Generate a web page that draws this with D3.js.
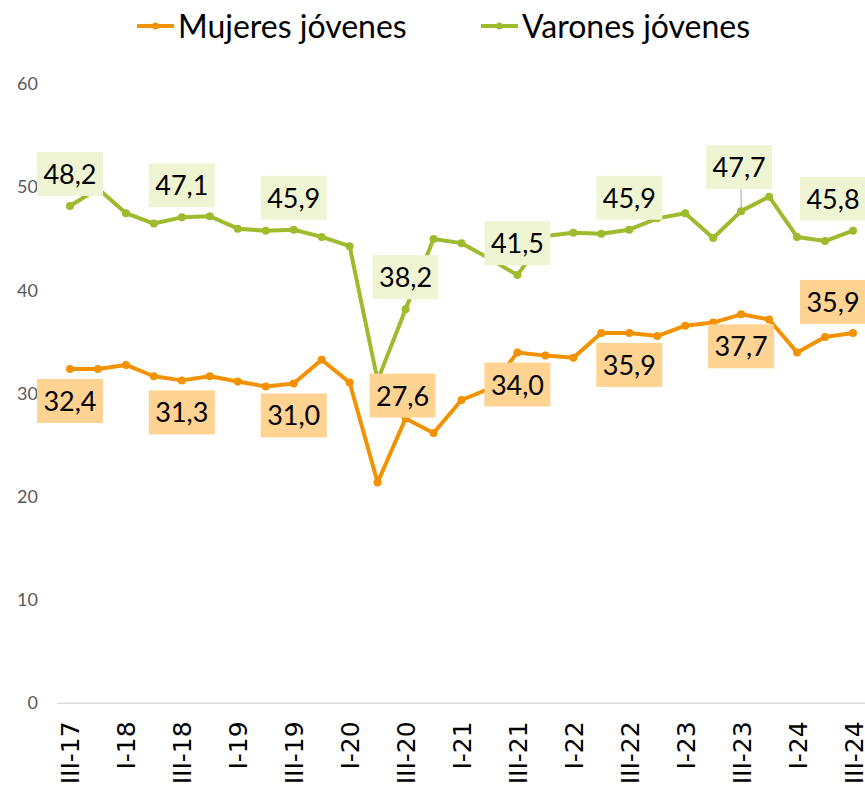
<!DOCTYPE html>
<html>
<head>
<meta charset="utf-8">
<script src="https://cdn.jsdelivr.net/npm/d3@7"></script>
<style>
  body { margin: 0; background: #fff; }
  svg { display: block; font-family: Lato, "Open Sans", sans-serif; }
</style>
</head>
<body>
<script>
// quarters III-2017 .. III-2024
const quarters = ['III-17','IV-17','I-18','II-18','III-18','IV-18','I-19','II-19','III-19','IV-19',
  'I-20','II-20','III-20','IV-20','I-21','II-21','III-21','IV-21','I-22','II-22','III-22','IV-22',
  'I-23','II-23','III-23','IV-23','I-24','II-24','III-24'];

const mujeres = [32.4, 32.4, 32.8, 31.7, 31.3, 31.7, 31.2, 30.7, 31.0, 33.3, 31.1, 21.4, 27.6, 26.2,
  29.4, 30.5, 34.0, 33.7, 33.5, 35.9, 35.9, 35.6, 36.6, 36.9, 37.7, 37.2, 34.0, 35.5, 35.9];

const varones = [48.2, 49.9, 47.5, 46.5, 47.1, 47.2, 46.0, 45.8, 45.9, 45.2, 44.3, 31.3, 38.2, 45.0,
  44.6, 43.1, 41.5, 45.3, 45.6, 45.5, 45.9, 47.0, 47.5, 45.1, 47.7, 49.1, 45.2, 44.8, 45.8];

const yTicks = [0, 10, 20, 30, 40, 50, 60];

const series = [
  { name: 'Mujeres jóvenes', values: mujeres, color: '#f39200', labelBg: '#ffd392', side: 1 },
  { name: 'Varones jóvenes', values: varones, color: '#9dbb2c', labelBg: '#eff5d3', side: -1 }
];

// label placement tweaks (dx, dy from the point) where the default is not used
const nudge = {
  'Mujeres jóvenes|III-20': [-3, -23],
  'Mujeres jóvenes|III-24': [-20, -31],
  'Varones jóvenes|III-23': [-2, -44],
  'Varones jóvenes|III-24': [-20, -32]
};

const W = 865, H = 786;
const svg = d3.select('body').append('svg').attr('width', W).attr('height', H);

const x = d3.scalePoint().domain(quarters).range([56, 867]).padding(0.5);
const y = d3.scaleLinear().domain([0, 60]).range([703.4, 84.2]);

/* y axis: labels only */
svg.append('g').selectAll('text')
  .data(yTicks)
  .enter().append('text')
  .attr('x', 38)
  .attr('y', d => y(d) + 6)
  .attr('text-anchor', 'end')
  .attr('font-size', 18)
  .attr('fill', '#595959')
  .text(d => d);

/* baseline */
svg.append('line')
  .attr('x1', 57).attr('x2', W)
  .attr('y1', y(0)).attr('y2', y(0))
  .attr('stroke', '#d9d9d9').attr('stroke-width', 1.3);

/* x axis: every other quarter, rotated */
const xAxis = d3.axisBottom(x)
  .tickValues(quarters.filter((q, i) => i % 2 === 0))
  .tickSize(0);
const gx = svg.append('g')
  .attr('transform', `translate(0,${y(0)})`)
  .call(xAxis);
gx.select('.domain').remove();
gx.selectAll('text')
  .attr('font-family', '"DejaVu Sans", sans-serif')
  .attr('font-size', 25)
  .attr('fill', '#000')
  .attr('transform', 'rotate(-90)')
  .attr('text-anchor', 'end')
  .attr('x', -18)
  .attr('y', 0)
  .attr('dy', '0.36em');

/* lines + markers */
const line = d3.line()
  .x((d, i) => x(quarters[i]))
  .y(d => y(d));

series.forEach(s => {
  svg.append('path')
    .datum(s.values)
    .attr('d', line)
    .attr('fill', 'none')
    .attr('stroke', s.color)
    .attr('stroke-width', 4)
    .attr('stroke-linejoin', 'round');
  svg.append('g').selectAll('circle')
    .data(s.values)
    .enter().append('circle')
    .attr('cx', (d, i) => x(quarters[i]))
    .attr('cy', d => y(d))
    .attr('r', 4)
    .attr('fill', s.color);
});

/* data labels on III quarters */
const fmt = v => d3.format('.1f')(v).replace('.', ',');
series.forEach(s => {
  s.values.forEach((v, i) => {
    const q = quarters[i];
    if (!q.startsWith('III')) return;
    const px = x(q), py = y(v);
    const n = nudge[s.name + '|' + q] || [0, 32 * s.side];
    const cx = px + n[0], cy = py + n[1];
    const g = svg.append('g');
    const bw = 66, bh = 44;
    if (Math.abs(n[1]) > 40) {
      g.append('line')
        .attr('x1', px).attr('y1', py)
        .attr('x2', px).attr('y2', cy + bh / 2)
        .attr('stroke', '#a6a6a6').attr('stroke-width', 1);
    }
    g.append('rect')
      .attr('x', cx - bw / 2).attr('y', cy - bh / 2)
      .attr('width', bw).attr('height', bh)
      .attr('fill', s.labelBg);
    g.append('text')
      .attr('x', cx).attr('y', cy + 10)
      .attr('text-anchor', 'middle')
      .attr('font-size', 27)
      .attr('fill', '#000')
      .text(fmt(v));
  });
});

/* legend */
const legendX = [137, 481];
const legend = svg.append('g');
series.forEach((s, i) => {
  const g = legend.append('g').attr('transform', `translate(${legendX[i]},26)`);
  g.append('line').attr('x1', 0).attr('x2', 37).attr('y1', 0).attr('y2', 0)
    .attr('stroke', s.color).attr('stroke-width', 4);
  g.append('circle').attr('cx', 18.5).attr('cy', 0).attr('r', 3.5).attr('fill', s.color);
  g.append('text')
    .attr('x', 41).attr('y', 12)
    .attr('font-size', 32)
    .attr('fill', '#000')
    .text(s.name);
});
</script>
</body>
</html>
